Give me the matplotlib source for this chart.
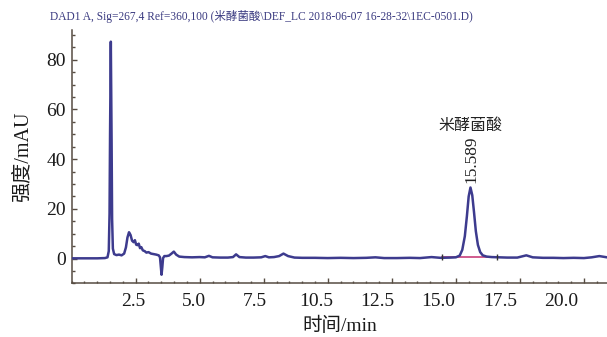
import matplotlib
matplotlib.use("Agg")
import matplotlib.pyplot as plt
import matplotlib.transforms as mtransforms
from matplotlib.ticker import MultipleLocator

# ---------------- DATA ----------------
time_min = [0.0, 0.5, 1.0, 1.3, 1.40, 1.45, 1.48, 1.50, 1.53, 1.56, 1.58, 1.61, 1.66,
            1.75, 1.85, 1.95, 2.05, 2.12, 2.18, 2.24, 2.30, 2.36, 2.42, 2.47, 2.52,
            2.57, 2.62, 2.67, 2.72, 2.78, 2.85, 2.92, 3.00, 3.10, 3.20, 3.30, 3.40,
            3.45, 3.48, 3.51, 3.54, 3.57, 3.62, 3.70, 3.80, 3.90, 3.99, 4.08, 4.2,
            4.4, 4.7, 5.0, 5.2, 5.36, 5.5, 5.8, 6.1, 6.3, 6.42, 6.55, 6.8, 7.1, 7.4,
            7.56, 7.7, 7.9, 8.1, 8.27, 8.45, 8.7, 9.0, 9.5, 10.0, 10.5, 11.0, 11.5,
            11.86, 12.2, 12.7, 13.2, 13.6, 14.05, 14.4, 14.8, 15.0, 15.15, 15.25,
            15.35, 15.43, 15.50, 15.57, 15.64, 15.71, 15.78, 15.86, 15.95, 16.05,
            16.2, 16.4, 16.7, 17.0, 17.4, 17.75, 18.0, 18.4, 18.8, 19.2, 19.6, 20.0,
            20.3, 20.6, 20.9]
signal_mau = [0.1, 0.1, 0.1, 0.2, 0.5, 3.0, 18.0, 50.0, 87.3, 48.0, 16.0, 4.0, 1.8,
              1.4, 1.6, 1.3, 2.0, 4.5, 8.5, 10.6, 9.5, 7.2, 6.6, 7.4, 5.6,
              5.4, 6.0, 4.2, 4.6, 3.3, 3.0, 2.4, 2.6, 2.0, 1.8, 1.6, 1.3,
              0.5, -3.0, -6.5, -3.5, 0.2, 1.0, 1.0, 1.2, 2.0, 2.8, 1.6, 0.8,
              0.6, 0.5, 0.6, 0.5, 1.1, 0.5, 0.4, 0.4, 0.6, 1.7, 0.6, 0.4, 0.4, 0.5,
              1.0, 0.5, 0.6, 1.0, 2.0, 1.0, 0.4, 0.3, 0.3, 0.2, 0.3, 0.2, 0.3,
              0.5, 0.2, 0.2, 0.3, 0.2, 0.6, 0.3, 0.4, 0.5, 1.2, 3.5,
              9.0, 17.0, 25.0, 28.6, 25.5, 18.5, 11.0, 5.5, 2.6, 1.3,
              0.8, 0.6, 0.5, 0.4, 0.4, 1.3, 0.5, 0.3, 0.3, 0.2, 0.3, 0.2,
              0.5, 1.0, 0.5]

# integration baseline under the 米酵菌酸 peak
base_t = [14.44, 16.61]
base_y = [0.5, 0.5]

peak_rt = 15.589
peak_height = 28.6
peak_name = "米酵菌酸"

xtick_pos = [2.5, 5.0, 7.5, 10.0, 12.5, 15.0, 17.5, 20.0]
xtick_labels = ["2.5", "5.0", "7.5", "10.5", "12.5", "15.0", "17.5", "20.0"]
ytick_pos = [0, 20, 40, 60, 80]

title = "DAD1 A, Sig=267,4 Ref=360,100 (米酵菌酸\\DEF_LC 2018-06-07 16-28-32\\1EC-0501.D)"
# --------------------------------------

fonts = ["Liberation Serif", "Noto Sans CJK SC", "DejaVu Sans"]
plt.rcParams["font.family"] = fonts
axis_col = "#564c42"
line_col = "#3d3b8e"

fig = plt.figure(figsize=(6.07, 3.37), dpi=100)
ax = fig.add_axes([0.118, 0.159, 0.882, 0.752])

ax.plot(time_min, signal_mau, color=line_col, lw=1.8, zorder=3)
ax.plot(base_t, base_y, color="#c8407a", lw=1.2, zorder=2)
ax.plot(base_t, base_y, ls="none", marker="|", ms=4, mew=1.0, color="#333333", zorder=4)

ax.text(peak_rt, peak_height + 2.0, f"{peak_rt:.3f}", rotation=90, ha="center", va="bottom",
        fontsize=12.5, color="#222222")
ax.text(peak_rt, 53.5, peak_name, ha="center", va="center", fontsize=11.5, color="#222222")

ax.set_xlim(0, 20.9)
ax.set_ylim(-10, 92)

for s in ["top", "right"]:
    ax.spines[s].set_visible(False)
for s in ["left", "bottom"]:
    ax.spines[s].set_color(axis_col)
    ax.spines[s].set_linewidth(1.1)

ax.set_xticks(xtick_pos)
ax.set_xticklabels(xtick_labels)
ax.xaxis.set_minor_locator(MultipleLocator(0.5))
ax.set_yticks(ytick_pos)
ax.yaxis.set_minor_locator(MultipleLocator(5))
ax.tick_params(which="both", direction="in", color=axis_col, width=1.0, labelsize=14,
               labelcolor="#1a1a1a")
ax.tick_params(which="major", length=3.5)
ax.tick_params(which="minor", length=1.8)
ax.tick_params(axis="x", pad=7)
ax.tick_params(axis="y", pad=4)

# labels in the source sit a little left of their ticks, more so further right
for v, lab in zip(xtick_pos, ax.get_xticklabels()):
    dx = -v * 1.15 / 100.0
    lab.set_transform(lab.get_transform() + mtransforms.ScaledTranslation(dx, 0, fig.dpi_scale_trans))

ax.set_xlabel("时间/min", fontsize=14, labelpad=5, color="#1a1a1a")
ax.set_ylabel("强度/mAU", fontsize=14.5, labelpad=10, color="#1a1a1a")

fig.text(0.431, 0.95, title, ha="center", va="center", fontsize=8.3, color="#3a3a80")

fig.savefig("out.png", dpi=100)
